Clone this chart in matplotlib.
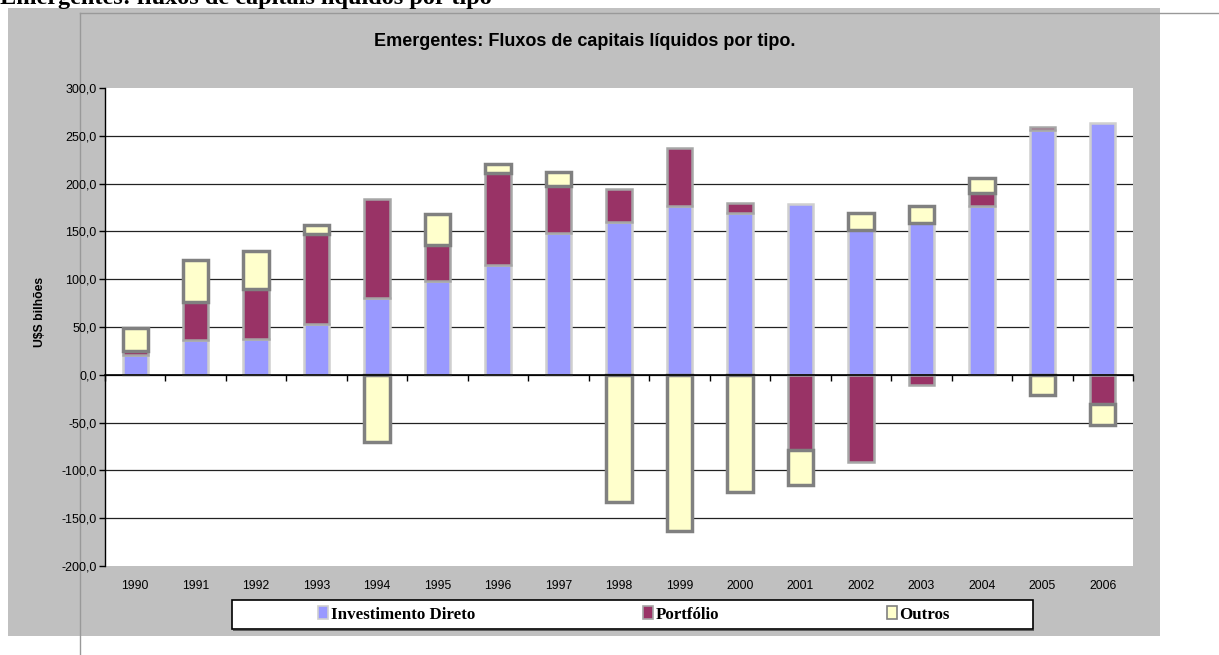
import numpy as np
import matplotlib
matplotlib.use("Agg")
import matplotlib.pyplot as plt
from matplotlib.patches import Rectangle, Patch
from matplotlib.lines import Line2D
from matplotlib.ticker import FuncFormatter

# dados (US$ bilhoes)
anos = [str(a) for a in range(1990, 2007)]
invest_direto = [21, 36, 37, 53.5, 80, 98, 115, 148, 160, 177, 169, 179, 151, 159, 177, 256, 263]
portfolio = [3.5, 40, 53, 93.5, 104, 38, 96, 49, 34, 60.5, 11, -78.5, -91.5, -10.5, 13.5, 3, -31]
outros = [24.5, 44, 40, 10, -70, 32, 9, 15, -133, -163, -123, -36.5, 18, 18, 15.5, -21, -21.5]
series = ["Investimento Direto", "Portfólio", "Outros"]
y_ticks = [-200, -150, -100, -50, 0, 50, 100, 150, 200, 250, 300]

W, H = 1219, 655
def fx(x):
    return x / W
def fy(y):
    return 1 - y / H

fig = plt.figure(figsize=(12.19, 6.55), dpi=100)
fig.patch.set_facecolor("white")

# fundo cinza da area do grafico
fig.patches.append(Rectangle((fx(8), fy(636)), fx(1160) - fx(8), fy(8) - fy(636),
                             transform=fig.transFigure, facecolor="#C0C0C0",
                             edgecolor="none", zorder=0))
fig.lines.append(Line2D([fx(80), 1], [fy(13), fy(13)], transform=fig.transFigure,
                        color="#999999", lw=1, zorder=1))
fig.lines.append(Line2D([fx(80), fx(80)], [fy(13), 0], transform=fig.transFigure,
                        color="#999999", lw=1, zorder=1))

# cabecalho do documento (cortado no topo, como no original)
fig.text(0.0, fy(4), "Emergentes: fluxos de capitais líquidos por tipo",
         family="Liberation Serif", fontweight="bold", fontsize=17.5,
         ha="left", va="baseline")

ax = fig.add_axes([fx(105), fy(566), fx(1133) - fx(105), fy(88) - fy(566)])
ax.set_facecolor("white")
ax.set_zorder(2)

x = np.arange(len(anos))
pos = np.zeros(len(anos))
neg = np.zeros(len(anos))
estilos = [
    dict(facecolor="#9999FF", edgecolor="#CFCFCF", linewidth=1.8),
    dict(facecolor="#993366", edgecolor="#A6A6A6", linewidth=1.8),
    dict(facecolor="#FFFFCC", edgecolor="#808080", linewidth=2.5),
]
for vals, st in zip([invest_direto, portfolio, outros], estilos):
    v = np.array(vals, dtype=float)
    base = np.where(v >= 0, pos, neg)
    ax.bar(x, v, width=0.42, bottom=base, zorder=3, **st)
    pos = pos + np.where(v >= 0, v, 0)
    neg = neg + np.where(v < 0, v, 0)

ax.set_xlim(-0.5, len(anos) - 0.5)
ax.set_ylim(-200, 300)
ax.set_yticks(y_ticks)
ax.yaxis.set_major_formatter(FuncFormatter(lambda v, p: f"{v:.1f}".replace(".", ",")))
ax.tick_params(axis="y", direction="out", length=4, width=1, labelsize=9, pad=2,
               color="black", labelcolor="black")
ax.grid(axis="y", color="#222222", lw=0.9, zorder=1)
ax.set_axisbelow(True)
gl = ax.yaxis.get_gridlines()
gl[0].set_visible(False)
gl[-1].set_visible(False)

# eixo das categorias cruzando em zero
ax.spines["bottom"].set_position(("data", 0))
ax.spines["bottom"].set_zorder(5)
ax.spines["bottom"].set_linewidth(1.2)
ax.spines["top"].set_visible(False)
ax.spines["right"].set_visible(False)
ax.spines["left"].set_linewidth(1)
ax.set_xticks(np.arange(len(anos) + 1) - 0.5)
ax.set_xticklabels([])
ax.tick_params(axis="x", direction="out", length=4, width=1, color="black")

sec = ax.secondary_xaxis("bottom")
sec.set_xticks(x)
sec.set_xticklabels(anos)
sec.tick_params(axis="x", length=0, labelsize=8.8, pad=10)
sec.spines["bottom"].set_visible(False)

fig.text(fx(585), fy(42), "Emergentes: Fluxos de capitais líquidos por tipo.",
         fontsize=13, fontweight="bold", ha="center", va="center", family="Liberation Sans")
fig.text(fx(40), fy(312), "U$S bilhões", rotation=90, fontsize=8.8, fontweight="bold",
         ha="center", va="center", family="Liberation Sans")

for t in ax.get_yticklabels() + sec.get_xticklabels():
    t.set_family("Liberation Sans")

# legenda
fig.patches.append(Rectangle((fx(233), fy(630)), fx(1034) - fx(233), fy(631) - fy(630),
                             transform=fig.transFigure, facecolor="#606060",
                             edgecolor="none", zorder=2))
fig.patches.append(Rectangle((fx(232), fy(629)), fx(1033) - fx(232), fy(600) - fy(629),
                             transform=fig.transFigure, facecolor="white",
                             edgecolor="black", lw=1.2, zorder=2))
handles = [Patch(**estilos[0]), Patch(**estilos[1]), Patch(**estilos[2])]
for h in handles:
    h.set_linewidth(1.2)
leg = fig.legend(handles, series, loc="center", bbox_to_anchor=(fx(634), fy(614.5)),
                 ncol=3, frameon=False, handlelength=0.6, handleheight=0.8,
                 handletextpad=0.15, columnspacing=9.9,
                 prop=dict(family="Liberation Serif", weight="bold", size=12.2))
leg.set_zorder(3)

fig.savefig("out.png", dpi=100)
